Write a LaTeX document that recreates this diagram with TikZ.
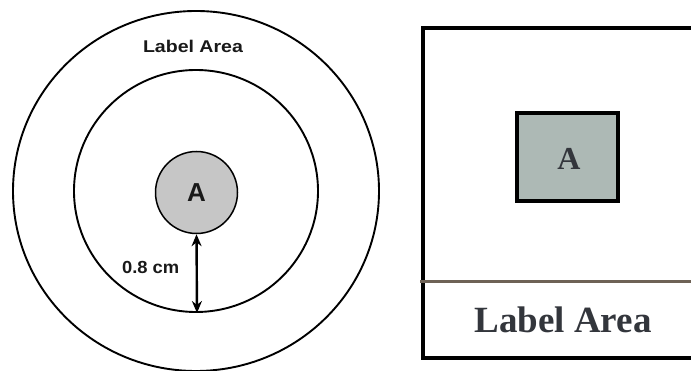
\documentclass[tikz,border=0pt]{standalone}
\usepackage{fontspec}
\usetikzlibrary{arrows.meta}
\setmainfont{Liberation Serif}
\setsansfont{Liberation Sans}
\definecolor{sqfill}{HTML}{ADB9B5}
\definecolor{txtdark}{HTML}{33363C}
\definecolor{divider}{HTML}{6E6256}
\definecolor{circfill}{HTML}{C6C6C6}
\begin{document}
\begin{tikzpicture}[x=1pt,y=-1pt,
  ring/.style={draw=black, line width=1.9pt},
  sanslbl/.style={font=\sffamily\bfseries, text=black!90, inner sep=0pt},
  seriflbl/.style={font=\rmfamily\bfseries, text=txtdark, inner sep=0pt},
  dimarrow/.style={line width=2.4pt, {Stealth[length=12pt,width=10pt]}-{Stealth[length=12pt,width=10pt]}}]
\clip (0,0) rectangle (691,371);
\fill[white] (0,0) rectangle (691,371);
% left: concentric circles
\coordinate (c) at (196,191);
\draw[ring] (c) ellipse [x radius=183, y radius=180];
\draw[ring] (c) ellipse [x radius=122, y radius=121];
\node[circle, draw=black, line width=1.5pt, fill=circfill, minimum size=82pt, inner sep=0pt] (inner) at (196.5,192.5) {};
\node[sanslbl, font=\sffamily\bfseries\fontsize{26}{26}\selectfont] (A1) at (inner.center) {A};
\node[sanslbl, font=\sffamily\bfseries\fontsize{17}{17}\selectfont] (lbl1) at (193,46) {\scalebox{1.15}[1]{Label Area}};
\coordinate (arrbot) at (197,313);
\draw[dimarrow] (inner.south) -- (arrbot);
\node[sanslbl, font=\sffamily\bfseries\fontsize{17.5}{17.5}\selectfont, anchor=east] (dim) at (179.5,267) {\scalebox{1.05}[1]{0.8 cm}};
% right: rectangle
\coordinate (rtl) at (423,28);
\coordinate (rbr) at (700,358);
\draw[line width=3.5pt] (rtl) rectangle (rbr);
\coordinate (dl) at (420,282);
\coordinate (dr) at (700,282);
\draw[divider, line width=3pt] (dl) -- (dr);
\node[draw=black, line width=4pt, fill=sqfill, minimum width=101pt, minimum height=88pt, inner sep=0pt] (sq) at (567.5,157) {};
\node[seriflbl, font=\rmfamily\bfseries\fontsize{32}{32}\selectfont] (A2) at (569,159) {A};
\node[seriflbl, font=\rmfamily\bfseries\fontsize{37}{37}\selectfont] (lbl2) at (563,320) {Label Area};
\end{tikzpicture}
\end{document}
